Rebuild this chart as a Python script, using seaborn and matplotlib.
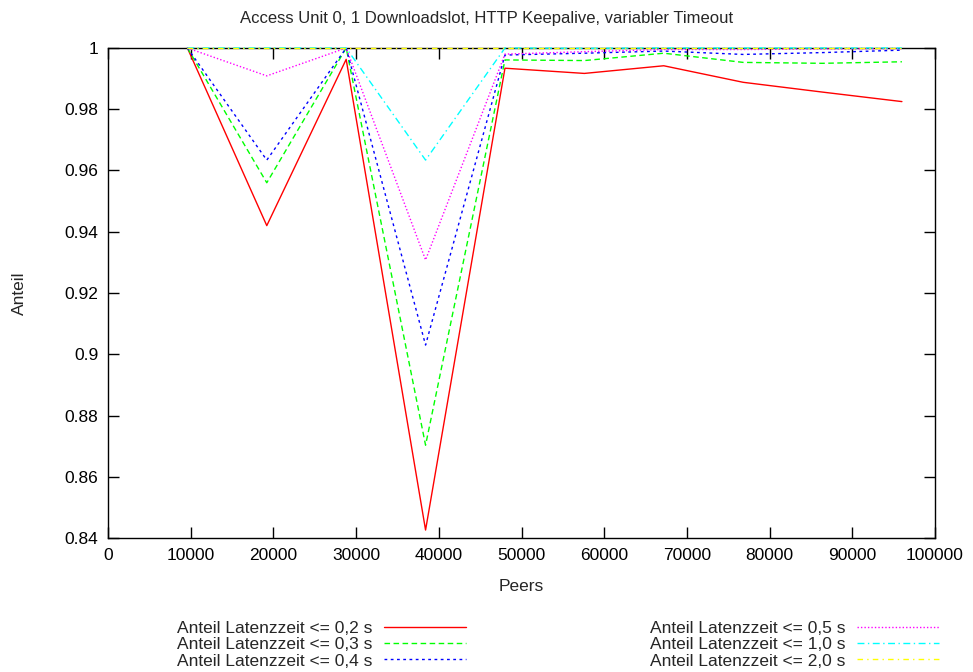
import numpy as np
import matplotlib
matplotlib.use("Agg")
import matplotlib.pyplot as plt
from matplotlib.ticker import FuncFormatter
import seaborn as sns

# values
peers = [9600, 19200, 28800, 38400, 48000, 57600, 67200, 76800, 86400, 96000]
lat_02 = [1.0, 0.942, 0.9963, 0.8426, 0.9934, 0.9917, 0.9942, 0.9888, 0.9856, 0.9825]
lat_03 = [1.0, 0.956, 1.0, 0.8703, 0.9961, 0.9959, 0.9983, 0.9953, 0.9950, 0.9955]
lat_04 = [1.0, 0.9634, 1.0, 0.903, 0.9977, 0.9983, 0.9990, 0.9979, 0.9985, 0.9993]
lat_05 = [1.0, 0.9909, 1.0, 0.9308, 0.9980, 0.9988, 0.9995, 0.9995, 0.9997, 0.9998]
lat_10 = [1.0, 1.0, 1.0, 0.9634, 1.0, 0.9999, 1.0, 1.0, 1.0, 1.0]
lat_20 = [1.0, 1.0, 1.0, 1.0, 1.0, 1.0, 1.0, 1.0, 1.0, 1.0]

labels = ["Anteil Latenzzeit <= 0,2 s", "Anteil Latenzzeit <= 0,3 s",
          "Anteil Latenzzeit <= 0,4 s", "Anteil Latenzzeit <= 0,5 s",
          "Anteil Latenzzeit <= 1,0 s", "Anteil Latenzzeit <= 2,0 s"]
series = [lat_02, lat_03, lat_04, lat_05, lat_10, lat_20]
colors = ["#ff0000", "#00ff00", "#0000ff", "#ff00ff", "#00ffff", "#ffff00"]
styles = ["-", (0, (4, 2.5)), (0, (2, 2.5)), (0, (1, 1.5)),
          (0, (5, 2.5, 1, 2.5)), (0, (4, 3, 1, 3))]

sns.set_style("ticks")
plt.rcParams['font.family'] = ['Liberation Sans', 'DejaVu Sans']
fs = 12.5

fig, ax = plt.subplots(figsize=(9.73, 6.72), dpi=100)
fig.subplots_adjust(left=108/973, right=935/973, top=1-48/672, bottom=1-538/672)

for vals, lab, col, ls in zip(series, labels, colors, styles):
    sns.lineplot(x=peers, y=vals, ax=ax, color=col, linestyle=ls, linewidth=1,
                 label=lab, clip_on=False, zorder=3)

ax.set_xlim(0, 100000)
ax.set_ylim(0.84, 1.0)
ax.set_xticks(np.arange(0, 100001, 10000))
ax.set_yticks(np.arange(0.84, 1.0001, 0.02))
ax.yaxis.set_major_formatter(FuncFormatter(lambda v, p: f"{v:g}"))
ax.tick_params(direction='in', length=8, width=1, top=True, right=True,
               colors='black', labelsize=fs, pad=7)
for sp in ax.spines.values():
    sp.set_color('black')
    sp.set_linewidth(1)
    sp.set_visible(True)

# gnuplot centres the title on the whole canvas
ax.set_title("Access Unit 0, 1 Downloadslot, HTTP Keepalive, variabler Timeout",
             fontsize=12, pad=18, x=(486.5 - 108) / 827)
ax.set_xlabel("Peers", fontsize=fs, labelpad=12)
ax.set_ylabel("Anteil", fontsize=fs, labelpad=27)

handles, labs = ax.get_legend_handles_labels()
ax.get_legend().remove()
fig.legend(handles, labs, loc='upper left', bbox_to_anchor=(168/973, 1-612/672),
           ncol=2, markerfirst=False, frameon=False, borderpad=0,
           handlelength=4.7, handletextpad=0.7, columnspacing=10.6,
           labelspacing=0.07, fontsize=fs)

fig.savefig("out.png", dpi=100)
